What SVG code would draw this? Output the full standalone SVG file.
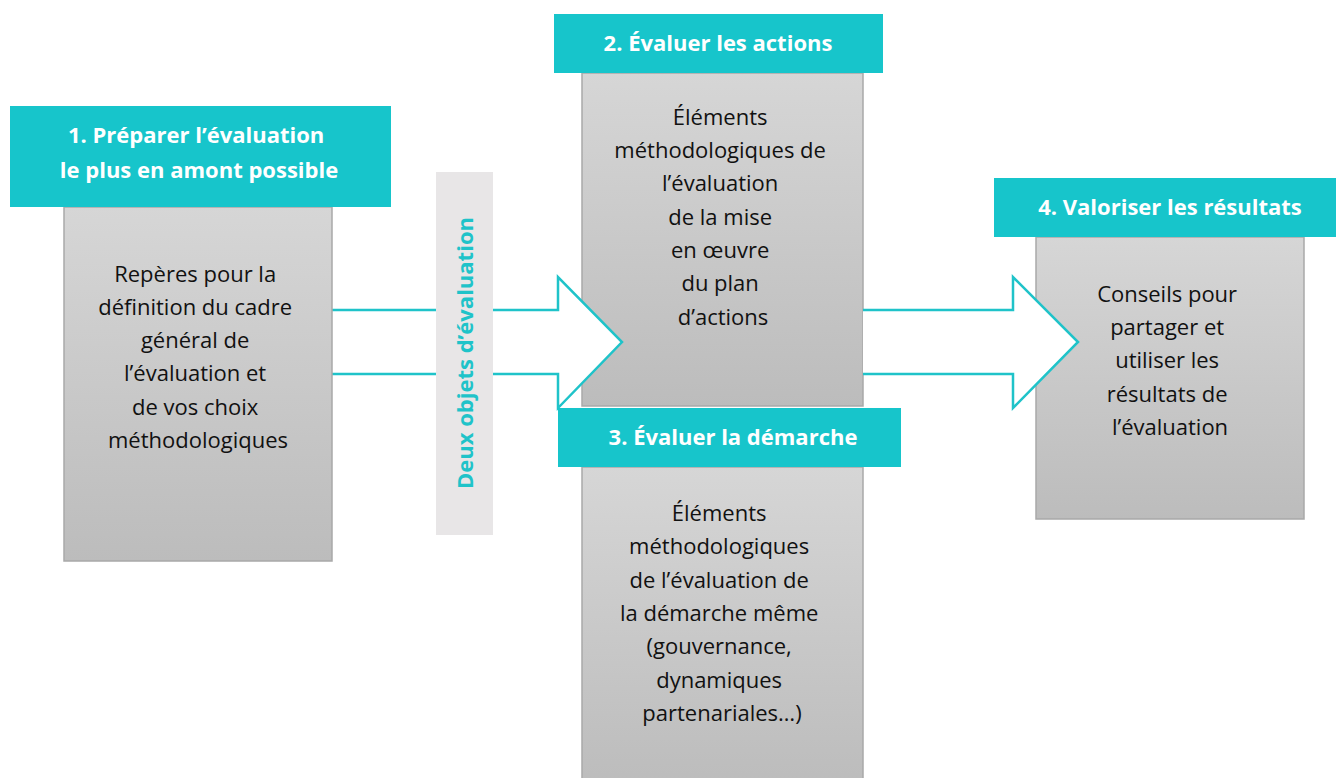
<svg xmlns="http://www.w3.org/2000/svg" width="1336" height="778" viewBox="0 0 1336 778">
<defs>
<linearGradient id="gray" x1="0" y1="0" x2="0" y2="1">
<stop offset="0" stop-color="#d6d6d6"/>
<stop offset="1" stop-color="#bcbcbc"/>
</linearGradient>
<style>
.body{fill:url(#gray);stroke:#a9a9a9;stroke-width:1.5}
.head{fill:#17c5cb}
.ht{font-family:"Open Sans","Liberation Sans",sans-serif;font-weight:bold;font-size:22px;fill:#ffffff;text-anchor:middle}
.bt{font-family:"Open Sans","Liberation Sans",sans-serif;font-size:22px;fill:#111111;text-anchor:middle}
.arrow{fill:#ffffff;stroke:#1fc3c9;stroke-width:2.5;stroke-linejoin:miter}
.vt{font-family:"Open Sans","Liberation Sans",sans-serif;font-weight:bold;font-size:22px;fill:#1fc3c9;text-anchor:middle}
</style>
</defs>
<rect width="1336" height="778" fill="#ffffff"/>

<g id="node2">
<rect class="body" x="582" y="73" width="281" height="333"/>
<rect class="head" x="554" y="14" width="329" height="59"/>
<text class="ht" x="718" y="51">2. Évaluer les actions</text>
<text class="bt" x="723">
<tspan x="723" y="125">Éléments</tspan>
<tspan x="723" y="158">méthodologiques de</tspan>
<tspan x="723" y="191">l’évaluation</tspan>
<tspan x="723" y="225">de la mise</tspan>
<tspan x="723" y="258">en œuvre</tspan>
<tspan x="723" y="291">du plan</tspan>
<tspan x="723" y="325">d’actions</tspan>
</text>
</g>

<g id="node4">
<rect class="body" x="1036" y="237" width="268" height="282"/>
<rect class="head" x="994" y="178" width="342" height="59"/>
<text class="ht" x="1170" y="215">4. Valoriser les résultats</text>
<text class="bt">
<tspan x="1170" y="302">Conseils pour</tspan>
<tspan x="1170" y="335">partager et</tspan>
<tspan x="1170" y="368">utiliser les</tspan>
<tspan x="1170" y="402">résultats de</tspan>
<tspan x="1170" y="435">l’évaluation</tspan>
</text>
</g>

<g id="connectors">
<path class="arrow" d="M332,310 L558,310 L558,277 L622,342 L558,408 L558,374 L332,374"/>
<path class="arrow" d="M863,310 L1013,310 L1013,277 L1078,342 L1013,408 L1013,374 L863,374"/>
</g>

<g id="node3">
<rect class="body" x="582" y="467" width="281" height="320"/>
<rect class="head" x="558" y="408" width="343" height="59"/>
<text class="ht" x="733" y="445">3. Évaluer la démarche</text>
<text class="bt">
<tspan x="722" y="521">Éléments</tspan>
<tspan x="722" y="554">méthodologiques</tspan>
<tspan x="722" y="588">de l’évaluation de</tspan>
<tspan x="722" y="621">la démarche même</tspan>
<tspan x="722" y="654">(gouvernance,</tspan>
<tspan x="722" y="688">dynamiques</tspan>
<tspan x="722" y="721">partenariales…)</tspan>
</text>
</g>

<g id="node1">
<rect class="body" x="64" y="207" width="268" height="354"/>
<rect class="head" x="10" y="106" width="381" height="101"/>
<text class="ht">
<tspan x="199" y="143">1. Préparer l’évaluation</tspan>
<tspan x="199" y="178">le plus en amont possible</tspan>
</text>
<text class="bt">
<tspan x="198" y="282">Repères pour la</tspan>
<tspan x="198" y="315">définition du cadre</tspan>
<tspan x="198" y="348">général de</tspan>
<tspan x="198" y="381">l’évaluation et</tspan>
<tspan x="198" y="415">de vos choix</tspan>
<tspan x="198" y="448">méthodologiques</tspan>
</text>
</g>

<g id="label">
<rect x="436" y="172" width="57" height="363" fill="#e8e6e7"/>
<text class="vt" transform="translate(473,353) rotate(-90)" x="0" y="0">Deux objets d’évaluation</text>
</g>
</svg>
